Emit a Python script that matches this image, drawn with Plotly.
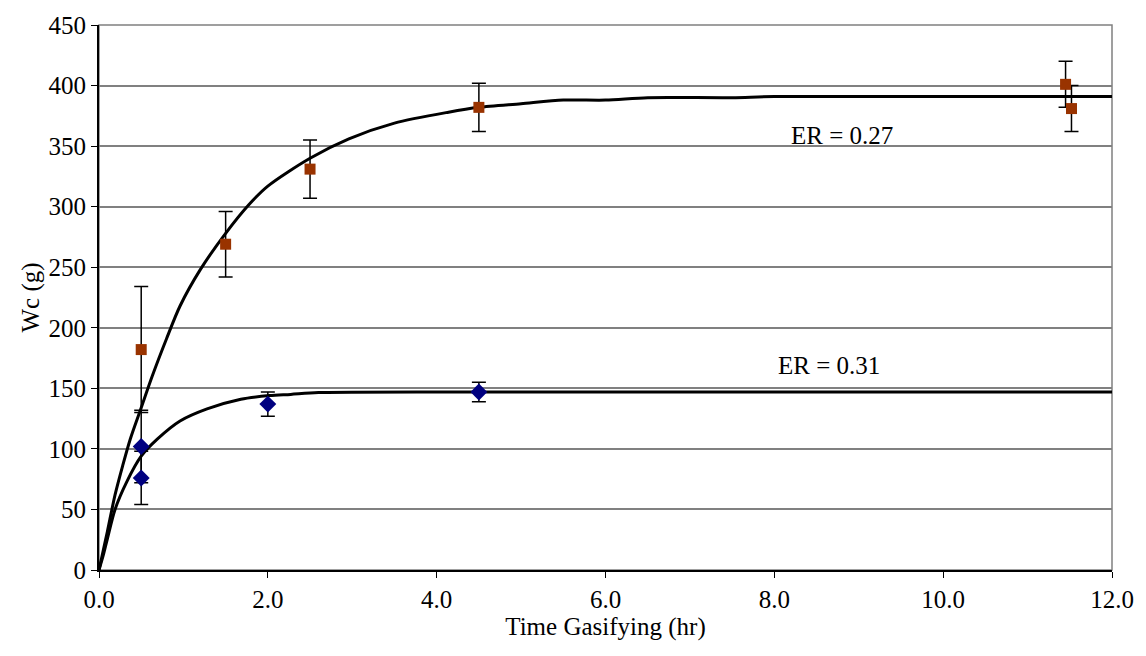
import plotly.graph_objects as go

# Model curves
curve27_x = [0.0, 0.05, 0.1, 0.19, 0.28, 0.37, 0.5, 0.63, 0.8, 0.96, 1.2, 1.5, 1.78, 2.0, 2.5, 2.96, 3.5, 4.14, 4.5, 5.0, 5.5, 6.0, 6.5, 7.5, 8.0, 12.0]
curve27_y = [0, 16, 32, 62, 86, 108, 134, 160, 191, 218, 248, 278, 302, 317, 340, 356, 369, 378, 382, 385, 388, 388, 390, 390, 391, 391]

curve31_x = [0.0, 0.05, 0.1, 0.19, 0.33, 0.5, 0.69, 0.96, 1.28, 1.68, 2.02, 2.27, 2.6, 4.5, 12.0]
curve31_y = [0, 12, 26, 50, 73, 94, 108, 123, 133, 141, 144, 145, 146.5, 147, 147]

# Measured data ER = 0.27
er27_x = [0.5, 1.5, 2.5, 4.5, 11.45, 11.52]
er27_y = [182, 269, 331, 382, 401, 381]
er27_err = [52, 27, 24, 20, 19, 19]

# Measured data ER = 0.31
er31_x = [0.5, 0.5, 2.0, 4.5]
er31_y = [102, 76, 137, 147]
er31_err = [30, 22, 10, 8]

x_ticks = [0, 2, 4, 6, 8, 10, 12]
x_tick_labels = ["0.0", "2.0", "4.0", "6.0", "8.0", "10.0", "12.0"]
y_ticks = [0, 50, 100, 150, 200, 250, 300, 350, 400, 450]

font_family = "Liberation Serif, Times New Roman, serif"

fig = go.Figure()

fig.add_trace(go.Scatter(x=curve27_x, y=curve27_y, mode="lines",
                         line=dict(color="black", width=3, shape="spline", smoothing=0.8),
                         showlegend=False, hoverinfo="skip"))
fig.add_trace(go.Scatter(x=curve31_x, y=curve31_y, mode="lines",
                         line=dict(color="black", width=3, shape="spline", smoothing=0.8),
                         showlegend=False, hoverinfo="skip"))

fig.add_trace(go.Scatter(x=er27_x, y=er27_y, mode="markers",
                         marker=dict(symbol="square", size=11, color="#993300"),
                         error_y=dict(type="data", array=er27_err, color="black", thickness=1.5, width=7),
                         showlegend=False))
fig.add_trace(go.Scatter(x=er31_x, y=er31_y, mode="markers",
                         marker=dict(symbol="diamond", size=13, color="#000080"),
                         error_y=dict(type="data", array=er31_err, color="black", thickness=1.5, width=7),
                         showlegend=False))

fig.add_annotation(x=8.8, y=359, text="ER = 0.27", showarrow=False,
                   font=dict(family=font_family, size=25, color="black"))
fig.add_annotation(x=8.65, y=169, text="ER = 0.31", showarrow=False,
                   font=dict(family=font_family, size=25, color="black"))

# plot-area frame (gray)
fig.add_shape(type="rect", xref="paper", yref="paper", x0=0, y0=0, x1=1, y1=1,
              line=dict(color="#808080", width=1.5), layer="below")

fig.update_layout(
    width=1146, height=656,
    margin=dict(l=99, r=29, t=16, b=86),
    paper_bgcolor="white", plot_bgcolor="white",
    font=dict(family=font_family, size=25, color="black"),
    xaxis=dict(range=[0, 12], tickvals=x_ticks, ticktext=x_tick_labels,
               showgrid=False, zeroline=False, showline=True, linecolor="black", linewidth=2,
               ticks="outside", ticklen=6, tickcolor="black", tickwidth=1,
               title=dict(text="Time Gasifying (hr)", font=dict(size=25), standoff=0)),
    yaxis=dict(range=[0, 450], tickvals=y_ticks,
               showgrid=True, gridcolor="#808080", gridwidth=1.5, zeroline=False,
               showline=True, linecolor="black", linewidth=2,
               ticks="outside", ticklen=6, tickcolor="black", tickwidth=1,
               title=dict(text="Wc (g)", font=dict(size=25), standoff=2)),
)

fig.write_html("out.html")
